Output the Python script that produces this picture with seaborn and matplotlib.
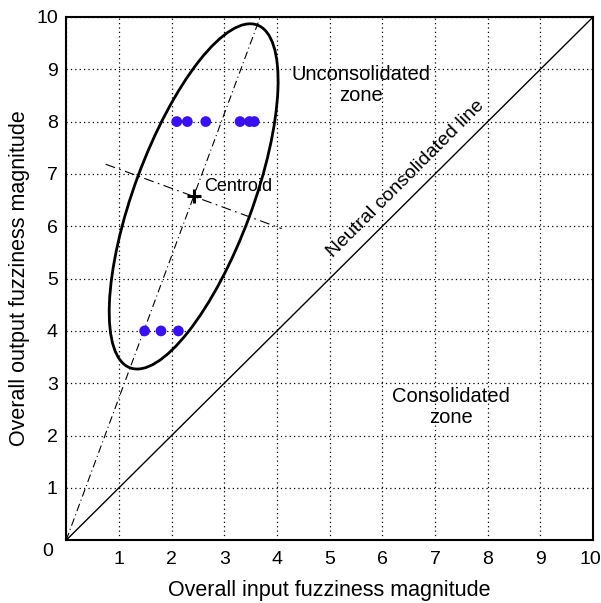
import numpy as np
import pandas as pd
import seaborn as sns
import matplotlib.pyplot as plt
import matplotlib.transforms as mtransforms
from matplotlib.patches import Ellipse

# observed points (input fuzziness, output fuzziness)
pts_x = [2.10, 2.30, 2.65, 3.30, 3.48, 3.57, 1.49, 1.80, 2.13]
pts_y = [8, 8, 8, 8, 8, 8, 4, 4, 4]

# centroid of the cluster and the fitted ellipse
centroid = (2.42, 6.57)
ell_width = 2.25      # minor axis length
ell_height = 6.98     # major axis length
ell_angle = -20.2     # tilt of major axis from vertical (deg)

# neutral consolidated line
neutral_x = [0, 10]
neutral_y = [0, 10]

ticks = list(range(11))

sns.set_style("white")
plt.rcParams['font.family'] = ['Liberation Sans', 'DejaVu Sans']
plt.rcParams['text.color'] = 'black'
plt.rcParams['axes.labelcolor'] = 'black'
plt.rcParams['xtick.color'] = 'black'
plt.rcParams['ytick.color'] = 'black'

fig = plt.figure(figsize=(6.01, 6.03), dpi=100)
ax = fig.add_axes([0.110, 0.104, 0.877, 0.868])

df = pd.DataFrame({'x': pts_x, 'y': pts_y})

# neutral line
sns.lineplot(x=neutral_x, y=neutral_y, color='black', lw=1.0, ax=ax)

# major axis: from origin through the centroid
slope = centroid[1] / centroid[0]
ax.plot([0, 10 / slope], [0, 10], color='black', lw=0.8,
        linestyle=(0, (7, 3, 1, 3)))

# minor axis: perpendicular through centroid
dx = 1.67
ax.plot([centroid[0] - dx, centroid[0] + dx],
        [centroid[1] + dx / slope, centroid[1] - dx / slope],
        color='black', lw=0.8, linestyle=(0, (9, 4, 1.5, 4)))

ell = Ellipse(centroid, ell_width, ell_height, angle=ell_angle,
              fill=False, edgecolor='black', lw=2.0)
ax.add_patch(ell)

sns.scatterplot(data=df, x='x', y='y', color='#3a10f0', s=60,
                edgecolor='none', ax=ax, zorder=5)

ax.plot(*centroid, marker='+', color='black', ms=10, mew=2.2, zorder=6)
ax.text(centroid[0] + 0.2, centroid[1] + 0.1, 'Centroid', fontsize=13)

ax.text(5.6, 8.7, 'Unconsolidated\nzone', fontsize=14.5, ha='center',
        va='center', linespacing=1.1)
ax.text(7.3, 2.55, 'Consolidated\nzone', fontsize=14.5, ha='center',
        va='center', linespacing=1.1)
ax.text(6.45, 6.9, 'Neutral consolidated line', fontsize=14,
        rotation=45, ha='center', va='center', rotation_mode='anchor')

ax.set_xlim(0, 10)
ax.set_ylim(0, 10)
ax.set_xticks(ticks)
ax.set_yticks(ticks)
ax.set_xticklabels([''] + [str(t) for t in ticks[1:]])
ax.set_yticklabels([''] + [str(t) for t in ticks[1:]])
ax.tick_params(length=0, labelsize=14)
ax.tick_params(axis='x', pad=8)
ax.tick_params(axis='y', pad=6)
# keep the last x label inside the figure
last = ax.get_xticklabels()[-1]
last.set_transform(last.get_transform() +
                   mtransforms.ScaledTranslation(-3 / 100, 0, fig.dpi_scale_trans))
ax.text(-0.25, -0.22, '0', fontsize=14, ha='right', va='center')

ax.grid(True, color='black', linestyle=(0, (1, 2.5)), lw=0.9)
ax.set_axisbelow(True)
for sp in ax.spines.values():
    sp.set_color('black')
    sp.set_linewidth(1.5)

ax.set_xlabel('Overall input fuzziness magnitude', fontsize=15.5, labelpad=8)
ax.set_ylabel('Overall output fuzziness magnitude', fontsize=15.5, labelpad=4)

fig.savefig('out.png', dpi=100)
